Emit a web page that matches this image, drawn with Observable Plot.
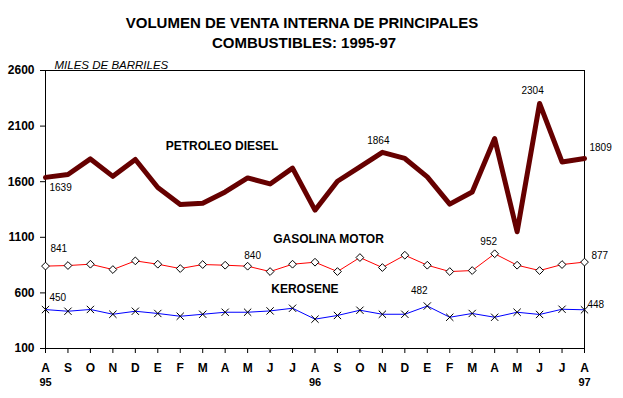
<!DOCTYPE html>
<html>
<head>
<meta charset="utf-8">
<script src="https://cdn.jsdelivr.net/npm/d3@7"></script>
<script src="https://cdn.jsdelivr.net/npm/@observablehq/plot@0.6"></script>
<style>
  body { margin: 0; background: #fff; }
  svg { font-family: "Liberation Sans", Arial, sans-serif; }
</style>
</head>
<body>
<div id="chart"></div>
<script>
const months = ["A","S","O","N","D","E","F","M","A","M","J","J","A","S","O","N","D","E","F","M","A","M","J","J","A"];
const yearLabels = ["95","96","97"];
const yearIdx = [0, 12, 24];
const diesel = [1639,1665,1805,1648,1800,1548,1395,1407,1508,1634,1580,1722,1344,1604,1733,1864,1809,1643,1398,1508,1988,1150,2304,1778,1809];
const gasolina = [841,846,858,810,888,858,819,855,849,840,792,858,876,792,918,828,939,849,792,801,952,849,801,855,877];
const kerosene = [450,435,451,408,435,415,390,408,426,426,438,462,364,397,444,408,408,482,381,415,381,426,406,453,448];
const yTicks = [100,600,1100,1600,2100,2600];
const seriesNames = ["PETROLEO DIESEL","GASOLINA MOTOR","KEROSENE"];
const titleLines = ["VOLUMEN DE VENTA INTERNA DE PRINCIPALES","COMBUSTIBLES: 1995-97"];
const unitLabel = "MILES DE BARRILES";

// which points carry value labels
const dieselLabelIdx = [0, 15, 22, 24];
const gasLabelIdx = [0, 9, 20, 24];
const keroLabelIdx = [0, 17, 24];

const rows = (arr) => arr.map((v, i) => ({i, v}));
const D = rows(diesel), G = rows(gasolina), K = rows(kerosene);

// label styling offsets (per labeled point)
const dOff = [[4,14,"start"],[-4,-8,"middle"],[-7,-9,"middle"],[5,-7,"start"]];
const gOff = [[5,-14,"start"],[5,-7,"middle"],[-6,-9,"middle"],[7,-3,"start"]];
const kOff = [[4,-9,"start"],[-8,-12,"middle"],[3,-2,"start"]];

function valueLabels(arr, idx, off) {
  return idx.map((i, k) => Plot.text([{i, v: arr[i]}], {
    x: "i", y: "v", text: d => String(d.v),
    dx: off[k][0], dy: off[k][1], textAnchor: off[k][2], lineAnchor: "bottom",
    fontSize: 10, fill: "black"
  }));
}

// series name label anchors (index, value)
const nameAnchors = [{i: 7.86, v: 1883}, {i: 12.6, v: 1047}, {i: 11.55, v: 597}];

const chart = Plot.plot({
  width: 623, height: 398,
  marginTop: 70, marginBottom: 50, marginLeft: 45, marginRight: 39,
  x: {type: "linear", domain: [0, 24]},
  y: {domain: [100, 2600]},
  marks: [
    Plot.axisY({ticks: yTicks, tickFormat: d => String(d), tickSize: 5, tickPadding: 6, label: null, fontSize: 12, fontWeight: "bold", fill: "black"}),
    Plot.axisX({ticks: d3.range(25), tickFormat: i => months[i], tickSize: 5, tickPadding: 9.5, label: null, fontSize: 12, fontWeight: "bold"}),
    Plot.axisX({ticks: yearIdx, tickFormat: i => yearLabels[yearIdx.indexOf(i)], tickSize: 0, tickPadding: 30, label: null, fontSize: 11, fontWeight: "bold"}),
    Plot.frame({stroke: "black"}),
    Plot.line(D, {x: "i", y: "v", stroke: "#660000", strokeWidth: 5}),
    Plot.line(G, {x: "i", y: "v", stroke: "#ff0000", strokeWidth: 1}),
    Plot.dot(G, {x: "i", y: "v", symbol: "diamond2", r: 3.5, stroke: "black", fill: "white", strokeWidth: 1}),
    Plot.line(K, {x: "i", y: "v", stroke: "#0000ff", strokeWidth: 1}),
    Plot.dot(K, {x: "i", y: "v", symbol: "times", r: 3.4, stroke: "black", strokeWidth: 1}),
    ...valueLabels(diesel, dieselLabelIdx, dOff),
    ...valueLabels(gasolina, gasLabelIdx, gOff),
    ...valueLabels(kerosene, keroLabelIdx, kOff),
    Plot.text(nameAnchors, {x: "i", y: "v", text: (d, k) => seriesNames[k], textAnchor: "middle", lineAnchor: "bottom", fontSize: 12, fontWeight: "bold", fill: "black"}),
    Plot.text([titleLines[0]], {frameAnchor: "top", text: d => d, dx: -13, dy: -43, lineAnchor: "bottom", fontSize: 15, fontWeight: "bold", fill: "black"}),
    Plot.text([titleLines[1]], {frameAnchor: "top", text: d => d, dx: -11, dy: -23, lineAnchor: "bottom", fontSize: 15, fontWeight: "bold", fill: "black"}),
    Plot.text([unitLabel], {frameAnchor: "top-left", text: d => d, dx: 9, dy: -2, lineAnchor: "bottom", textAnchor: "start", fontSize: 11.5, fontStyle: "italic", fill: "black"})
  ]
});
document.getElementById("chart").appendChild(chart);
</script>
</body>
</html>
